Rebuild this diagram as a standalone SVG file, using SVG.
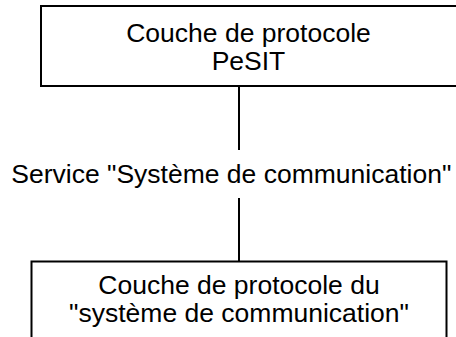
<svg xmlns="http://www.w3.org/2000/svg" width="456" height="337" viewBox="0 0 456 337">
  <style>
    .box { fill: #ffffff; stroke: #000000; stroke-width: 2; }
    .label { font-family: "Liberation Sans", Arial, sans-serif; font-size: 26.5px; fill: #000000; text-anchor: middle; }
    .link { stroke: #000000; stroke-width: 2; fill: none; }
  </style>
  <rect width="456" height="337" fill="#ffffff"/>

  <g id="connectors">
    <line class="link" x1="239" y1="86" x2="239" y2="150"/>
    <line class="link" x1="239" y1="198" x2="239" y2="262"/>
  </g>

  <g id="pesit-layer">
    <rect class="box" x="41" y="6" width="416" height="80"/>
    <text class="label" x="248.5" y="41.5">Couche de protocole</text>
    <text class="label" x="248.5" y="69.5">PeSIT</text>
  </g>

  <g id="service">
    <text class="label" x="231.3" y="183.3">Service "Système de communication"</text>
  </g>

  <g id="comm-layer">
    <rect class="box" x="31.5" y="261.5" width="415" height="80"/>
    <text class="label" x="239" y="294.3">Couche de protocole du</text>
    <text class="label" x="239" y="322">"système de communication"</text>
  </g>
</svg>
